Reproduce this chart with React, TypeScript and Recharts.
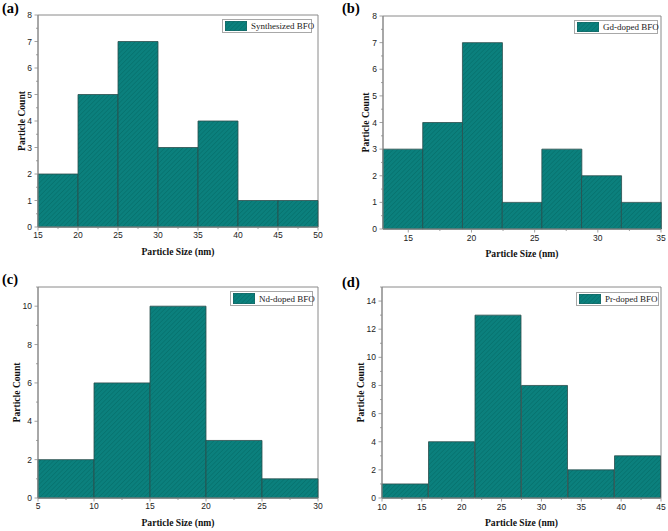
import { BarChart, Bar, XAxis, YAxis, Legend, ReferenceArea, Label } from "recharts";

// bin edges and counts
const edgesA = [15, 20, 25, 30, 35, 40, 45, 50];
const countsA = [2, 5, 7, 3, 4, 1, 1];
const xTicksA = [15, 20, 25, 30, 35, 40, 45, 50];
const yTicksA = [0, 1, 2, 3, 4, 5, 6, 7, 8];

const edgesB = [13, 16.143, 19.286, 22.429, 25.571, 28.714, 31.857, 35];
const countsB = [3, 4, 7, 1, 3, 2, 1];
const xTicksB = [15, 20, 25, 30, 35];
const yTicksB = [0, 1, 2, 3, 4, 5, 6, 7, 8];

const edgesC = [5, 10, 15, 20, 25, 30];
const countsC = [2, 6, 10, 3, 1];
const xTicksC = [5, 10, 15, 20, 25, 30];
const yTicksC = [0, 2, 4, 6, 8, 10];

const edgesD = [10, 15.833, 21.667, 27.5, 33.333, 39.167, 45];
const countsD = [1, 4, 13, 8, 2, 3];
const xTicksD = [10, 15, 20, 25, 30, 35, 40, 45];
const yTicksD = [0, 2, 4, 6, 8, 10, 12, 14];

const SERIF = "'Liberation Serif', 'Times New Roman', serif";
const SANS = "'Liberation Sans', Arial, sans-serif";
const FRAME = "#8a8a8a";

const withMinors = (major: number[]) => {
  const out: number[] = [];
  major.forEach((v, i) => {
    out.push(v);
    if (i < major.length - 1) out.push((v + major[i + 1]) / 2);
  });
  return out;
};

const makeXTick = (major: number[], labelDy: number) => (props: any) => {
  const { x, y, payload } = props;
  const isMajor = major.includes(payload.value);
  return (
    <g>
      <line x1={x} y1={y} x2={x} y2={y + (isMajor ? 3.5 : 2)} stroke={FRAME} strokeWidth={0.8} />
      {isMajor && (
        <text x={x} y={y + labelDy} textAnchor="middle" fontFamily={SANS} fontSize={8.5} fill="#222">
          {payload.value}
        </text>
      )}
    </g>
  );
};

const makeYTick = (major: number[]) => (props: any) => {
  const { x, y, payload } = props;
  const isMajor = major.includes(payload.value);
  return (
    <g>
      <line x1={x} y1={y} x2={x - (isMajor ? 3.5 : 2)} y2={y} stroke={FRAME} strokeWidth={0.8} />
      {isMajor && (
        <text x={x - 6} y={y + 3} textAnchor="end" fontFamily={SANS} fontSize={8.5} fill="#222">
          {payload.value}
        </text>
      )}
    </g>
  );
};

type Box = {
  left: number;
  top: number;
  w: number;
  h: number;
  pl: number;
  pt: number;
  pr: number;
  pb: number;
  xLabelDy: number;
  xTitleDy: number;
  yTitleGap: number;
  legend: { left: number; top: number; w: number; h: number };
  tagX: number;
  tagY: number;
};

function Panel({
  id,
  tag,
  name,
  edges,
  counts,
  xTicks,
  yTicks,
  yMax,
  box,
}: {
  id: string;
  tag: string;
  name: string;
  edges: number[];
  counts: number[];
  xTicks: number[];
  yTicks: number[];
  yMax: number;
  box: Box;
}) {
  const data = counts.map((c, i) => ({ mid: (edges[i] + edges[i + 1]) / 2, count: c }));
  const x0 = edges[0];
  const x1 = edges[edges.length - 1];
  const yMinor = withMinors(yTicks);
  if (yMinor[yMinor.length - 1] + (yTicks[1] - yTicks[0]) / 2 <= yMax) {
    yMinor.push(yMinor[yMinor.length - 1] + (yTicks[1] - yTicks[0]) / 2);
  }
  const fillId = `hatch-${id}`;
  const lg = box.legend;

  return (
    <div style={{ position: "absolute", left: box.left, top: box.top, width: box.w, height: box.h }}>
      <div
        style={{
          position: "absolute",
          left: box.tagX,
          top: box.tagY - 13,
          fontFamily: SERIF,
          fontWeight: "bold",
          fontSize: 14.5,
          lineHeight: "16px",
        }}
      >
        {tag}
      </div>
      <BarChart
        width={box.w}
        height={box.h}
        data={data}
        margin={{ top: box.pt, right: box.w - box.pr, bottom: 0, left: 0 }}
        barCategoryGap={0}
        barGap={0}
      >
        <defs>
          <pattern id={fillId} width={3.2} height={3.2} patternUnits="userSpaceOnUse" patternTransform="rotate(45)">
            <rect width={3.2} height={3.2} fill="#0b807d" />
            <line x1={0} y1={0} x2={0} y2={3.2} stroke="#06706c" strokeWidth={1.3} />
          </pattern>
        </defs>
        <XAxis
          dataKey="mid"
          type="number"
          domain={[x0, x1]}
          ticks={withMinors(xTicks)}
          interval={0}
          height={box.h - box.pb}
          tickSize={0}
          tickMargin={0}
          axisLine={{ stroke: FRAME }}
          tick={makeXTick(xTicks, box.xLabelDy)}
        >
          <Label
            content={(p: any) => {
              const vb = p.viewBox;
              return (
                <text
                  x={vb.x + vb.width / 2}
                  y={vb.y + box.xTitleDy + 3.5}
                  textAnchor="middle"
                  fontFamily={SERIF}
                  fontWeight="bold"
                  fontSize={9.6}
                  fill="#111"
                >
                  Particle Size (nm)
                </text>
              );
            }}
          />
        </XAxis>
        <YAxis
          type="number"
          domain={[0, yMax]}
          ticks={yMinor}
          interval={0}
          width={box.pl}
          tickSize={0}
          tickMargin={0}
          axisLine={{ stroke: FRAME }}
          tick={makeYTick(yTicks)}
        >
          <Label
            content={(p: any) => {
              const vb = p.viewBox;
              const cx = vb.x + vb.width - box.yTitleGap + 3.5;
              const cy = vb.y + vb.height / 2;
              return (
                <text
                  x={cx}
                  y={cy}
                  transform={`rotate(-90, ${cx}, ${cy})`}
                  textAnchor="middle"
                  fontFamily={SERIF}
                  fontWeight="bold"
                  fontSize={9.6}
                  fill="#111"
                >
                  Particle Count
                </text>
              );
            }}
          />
        </YAxis>
        <Bar
          dataKey="count"
          name={name}
          fill={`url(#${fillId})`}
          stroke="#2c4e4d"
          strokeWidth={0.8}
          isAnimationActive={false}
        />
        <ReferenceArea x1={x0} x2={x1} y1={0} y2={yMax} fill="none" stroke={FRAME} strokeWidth={1} fillOpacity={0} />
        <Legend
          layout="horizontal"
          verticalAlign="middle"
          align="center"
          wrapperStyle={{ left: lg.left, top: lg.top, width: lg.w, height: lg.h }}
          content={() => (
            <div
              style={{
                boxSizing: "border-box",
                width: lg.w,
                height: lg.h,
                border: "1px solid #a8a8a8",
                background: "#fff",
                display: "flex",
                alignItems: "center",
                padding: "0 2px",
              }}
            >
              <svg width={22} height={lg.h - 4} style={{ display: "block", flex: "none" }}>
                <rect x={0} y={0} width={22} height={lg.h - 4} fill={`url(#${fillId})`} stroke="#2c4e4d" strokeWidth={0.6} />
              </svg>
              <span style={{ fontFamily: SERIF, fontSize: 9, color: "#222", marginLeft: 4, whiteSpace: "nowrap" }}>
                {name}
              </span>
            </div>
          )}
        />
      </BarChart>
    </div>
  );
}

const boxA: Box = {
  left: 0, top: 0, w: 334, h: 265, pl: 38, pt: 15, pr: 318, pb: 227,
  xLabelDy: 11, xTitleDy: 24.7, yTitleGap: 17,
  legend: { left: 222, top: 19, w: 90, h: 14 }, tagX: 2, tagY: 13,
};
const boxB: Box = {
  left: 334, top: 0, w: 334, h: 265, pl: 49, pt: 16, pr: 327, pb: 229,
  xLabelDy: 12, xTitleDy: 24.3, yTitleGap: 17.6,
  legend: { left: 240, top: 20, w: 84, h: 14 }, tagX: 8, tagY: 13,
};
const boxC: Box = {
  left: 0, top: 265, w: 334, h: 266, pl: 38, pt: 22, pr: 318, pb: 233,
  xLabelDy: 11, xTitleDy: 24, yTitleGap: 22,
  legend: { left: 230, top: 26, w: 83, h: 15 }, tagX: 2, tagY: 19,
};
const boxD: Box = {
  left: 334, top: 265, w: 334, h: 266, pl: 48, pt: 22, pr: 327, pb: 233,
  xLabelDy: 12, xTitleDy: 24, yTitleGap: 21.6,
  legend: { left: 242, top: 27, w: 83, h: 14 }, tagX: 8, tagY: 22,
};

export default function App() {
  return (
    <div style={{ position: "relative", width: 668, height: 531, background: "#fff" }}>
      <style>{"body{margin:0}"}</style>
      <Panel id="a" tag="(a)" name="Synthesized BFO" edges={edgesA} counts={countsA} xTicks={xTicksA} yTicks={yTicksA} yMax={8} box={boxA} />
      <Panel id="b" tag="(b)" name="Gd-doped BFO" edges={edgesB} counts={countsB} xTicks={xTicksB} yTicks={yTicksB} yMax={8} box={boxB} />
      <Panel id="c" tag="(c)" name="Nd-doped BFO" edges={edgesC} counts={countsC} xTicks={xTicksC} yTicks={yTicksC} yMax={11} box={boxC} />
      <Panel id="d" tag="(d)" name="Pr-doped BFO" edges={edgesD} counts={countsD} xTicks={xTicksD} yTicks={yTicksD} yMax={15} box={boxD} />
    </div>
  );
}
